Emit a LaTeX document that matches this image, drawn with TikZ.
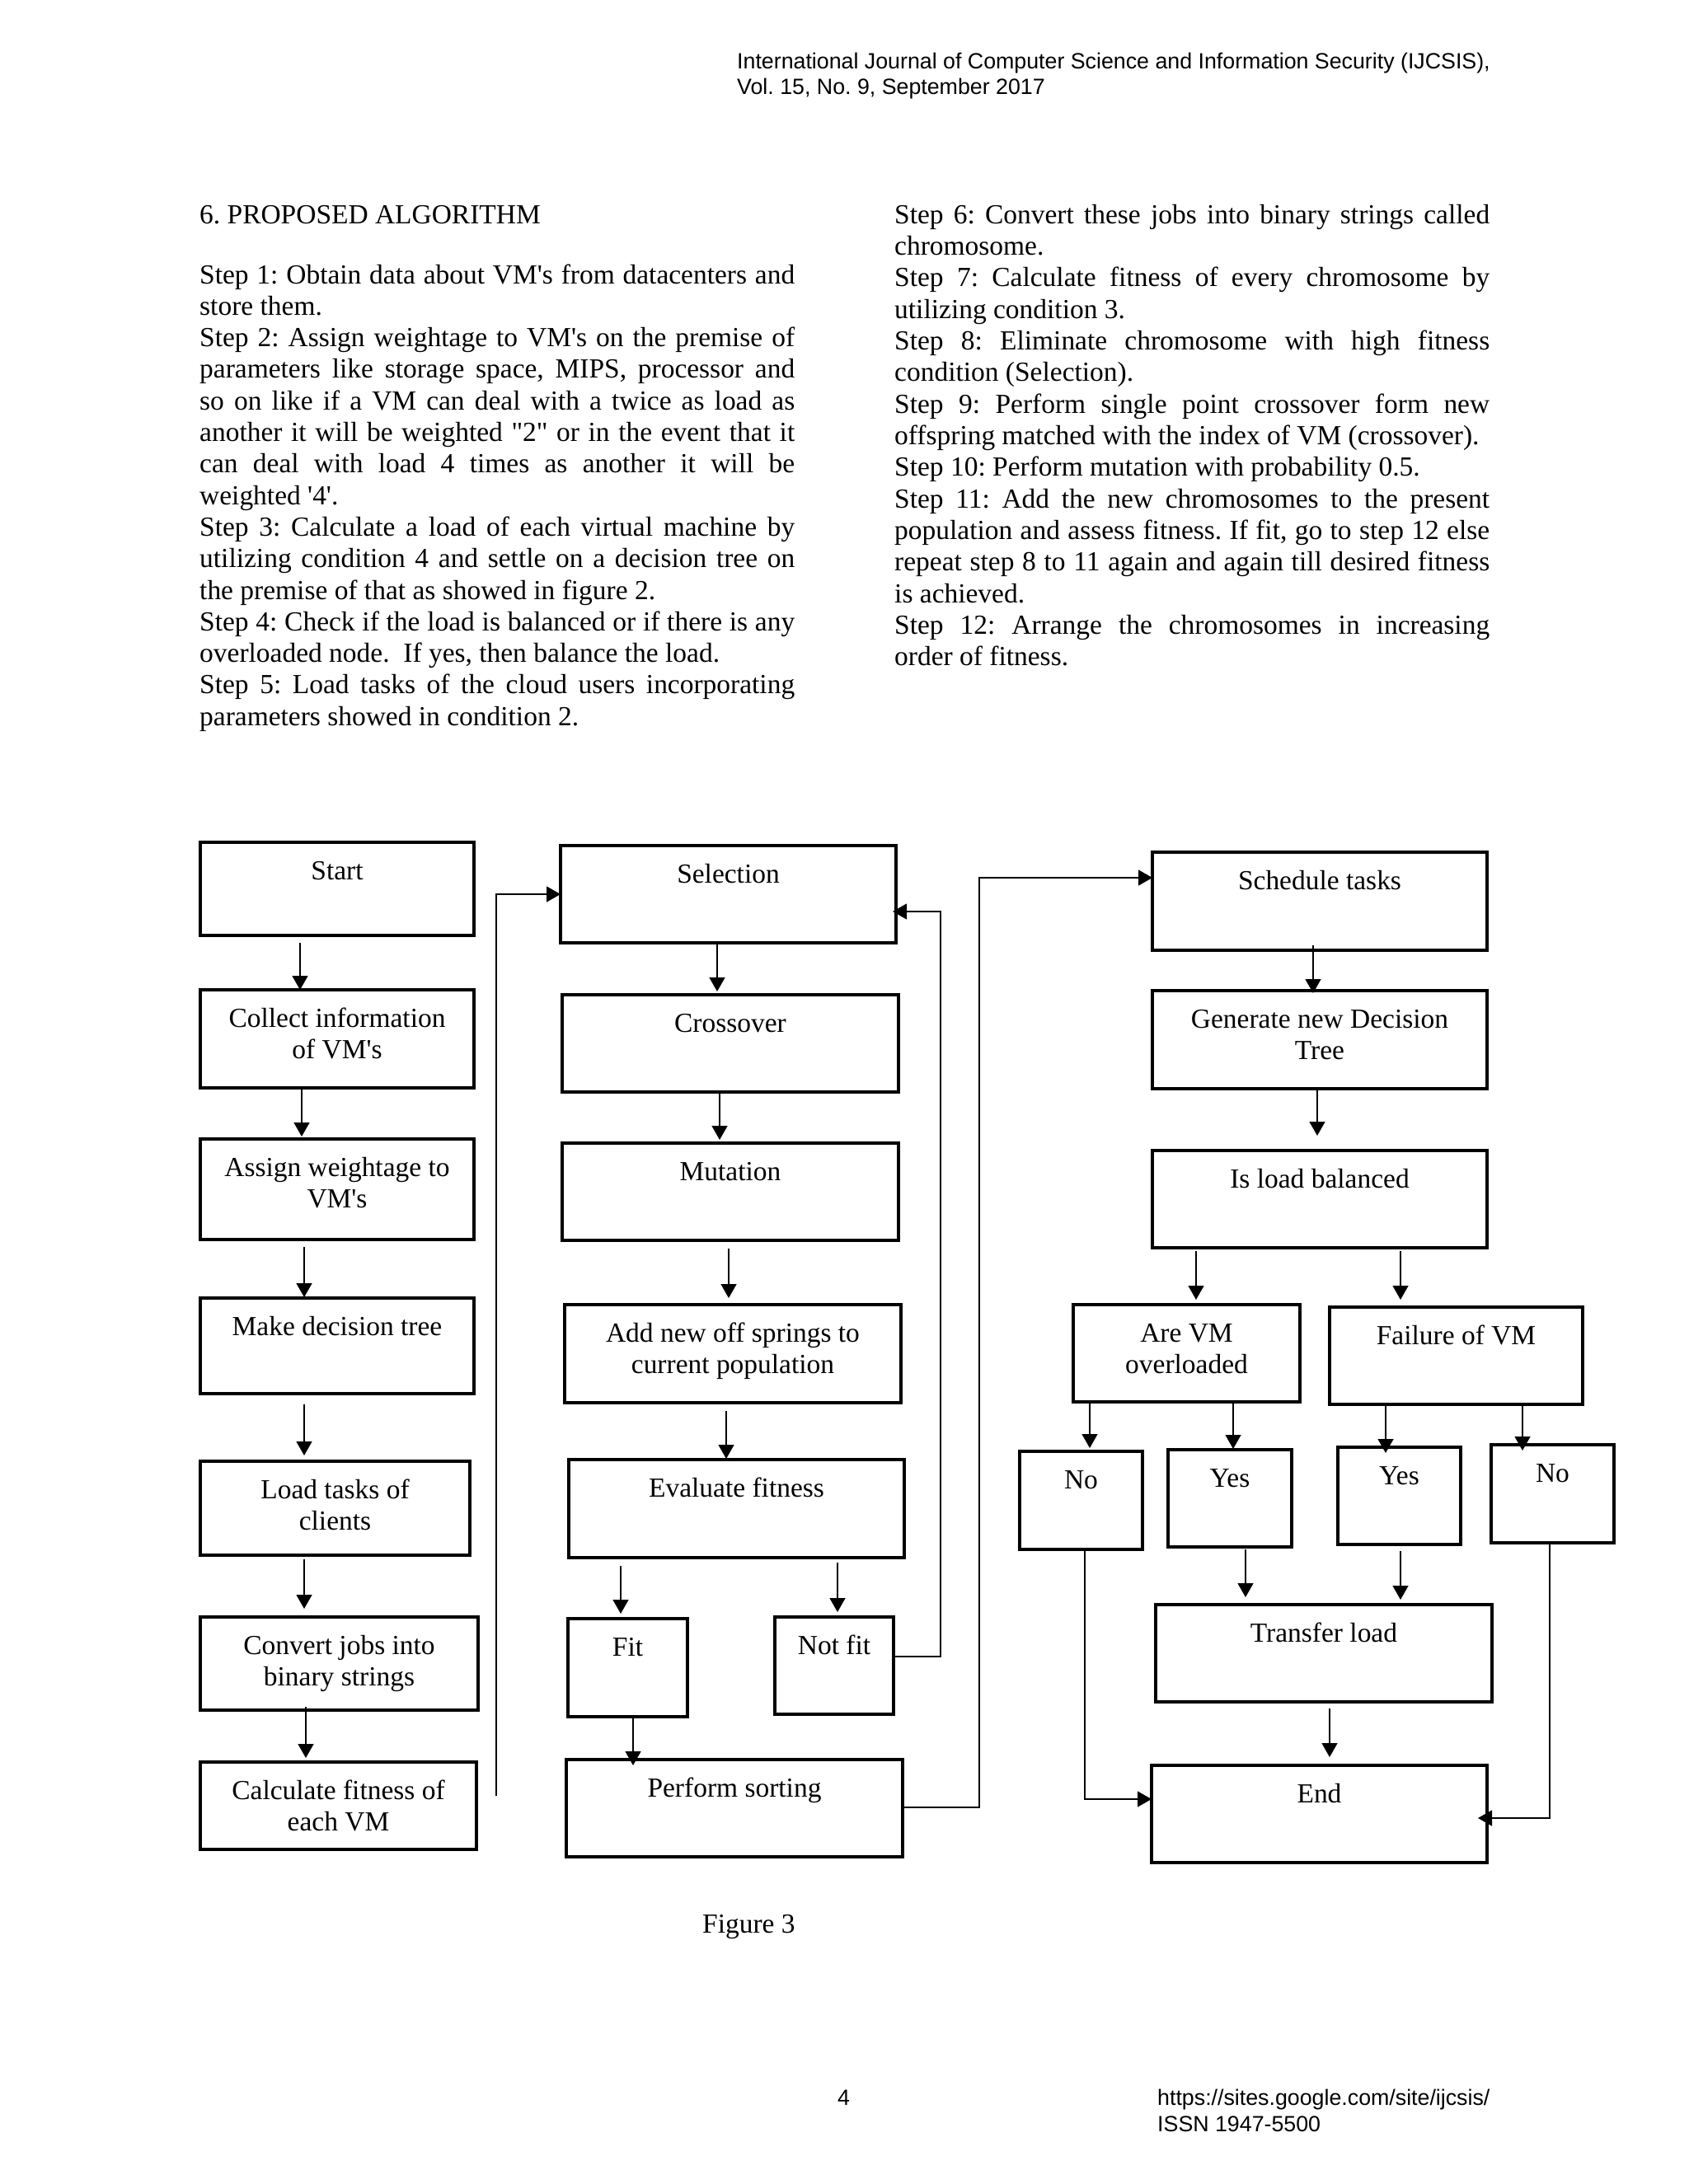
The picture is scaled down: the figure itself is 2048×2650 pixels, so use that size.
\documentclass[tikz,border=0pt]{standalone}
\usepackage{fontspec}
\setmainfont{Liberation Serif}
\newfontfamily\hdrfont{Liberation Sans}
\usetikzlibrary{arrows.meta,calc}
\frenchspacing
\newcommand\aq{\textquotesingle}
\newcommand\dq{\textquotedbl}
\newcommand\bodyf{\fontsize{33.46pt}{38.35pt}\selectfont\frenchspacing}
\newcommand\hdrf{\hdrfont\fontsize{26.77pt}{31pt}\selectfont}
\tikzset{
  boxs/.style={draw, line width=3.3pt, rectangle, inner sep=0pt, outer sep=0pt, anchor=north west},
  lbl/.style={inner sep=0pt, anchor=base, font=\bodyf},
  txt/.style={inner sep=0pt, anchor=base west, font=\bodyf},
  htxt/.style={inner sep=0pt, anchor=base west, font=\hdrf},
  arr/.style={line width=1.3pt, -{Triangle[length=17pt,width=19pt]}},
}
\newcommand\jline[4]{\node[txt] (#1) at (#2,#3) {\makebox[722pt][s]{#4}};}
\newcommand\nline[4]{\node[txt] (#1) at (#2,#3) {#4};}
\newcommand\boxnode[5]{\node[boxs, minimum width=#4pt, minimum height=#5pt] (#1) at (#2,#3) {};}
\newcommand\lab[4]{\node[lbl] (#1) at (#2,#3) {#4};}
\begin{document}
\begin{tikzpicture}[x=1pt,y=-1pt]
\useasboundingbox[fill=white] (0,0) rectangle (2048,2650);

% header
\node[htxt] (h1) at (894,83) {International Journal of Computer Science and Information Security (IJCSIS),};
\node[htxt] (h2) at (894,114) {Vol. 15, No. 9, September 2017};

% left column
\nline{lh}{242}{271}{6. PROPOSED ALGORITHM}
\jline{l1}{242}{344}{Step 1: Obtain data about VM\aq s from datacenters and}
\nline{l2}{242}{382.3}{store them.}
\jline{l3}{242}{420.6}{Step 2: Assign weightage to VM\aq s on the premise of}
\jline{l4}{242}{458.9}{parameters like storage space, MIPS, processor and}
\jline{l5}{242}{497.2}{so on like if a VM can deal with a twice as load as}
\jline{l6}{242}{535.5}{another it will be weighted \dq 2\dq{} or in the event that it}
\jline{l7}{242}{573.8}{can deal with load 4 times as another it will be}
\nline{l8}{242}{612.1}{weighted \aq 4\aq .}
\jline{l9}{242}{650.4}{Step 3: Calculate a load of each virtual machine by}
\jline{l10}{242}{688.7}{utilizing condition 4 and settle on a decision tree on}
\nline{l11}{242}{727}{the premise of that as showed in figure 2.}
\jline{l12}{242}{765.3}{Step 4: Check if the load is balanced or if there is any}
\nline{l13}{242}{803.6}{overloaded node.\ \ If yes, then balance the load.}
\jline{l14}{242}{841.9}{Step 5: Load tasks of the cloud users incorporating}
\nline{l15}{242}{880.2}{parameters showed in condition 2.}

% right column
\jline{r1}{1085}{271}{Step 6: Convert these jobs into binary strings called}
\nline{r2}{1085}{309.35}{chromosome.}
\jline{r3}{1085}{347.7}{Step 7: Calculate fitness of every chromosome by}
\nline{r4}{1085}{386.05}{utilizing condition 3.}
\jline{r5}{1085}{424.4}{Step 8: Eliminate chromosome with high fitness}
\nline{r6}{1085}{462.75}{condition (Selection).}
\jline{r7}{1085}{501.1}{Step 9: Perform single point crossover form new}
\nline{r8}{1085}{539.45}{offspring matched with the index of VM (crossover).}
\nline{r9}{1085}{577.8}{Step 10: Perform mutation with probability 0.5.}
\jline{r10}{1085}{616.15}{Step 11: Add the new chromosomes to the present}
\jline{r11}{1085}{654.5}{population and assess fitness. If fit, go to step 12 else}
\jline{r12}{1085}{692.85}{repeat step 8 to 11 again and again till desired fitness}
\nline{r13}{1085}{731.2}{is achieved.}
\jline{r14}{1085}{769.55}{Step 12: Arrange the chromosomes in increasing}
\nline{r15}{1085}{807.9}{order of fitness.}

% ---------- flowchart boxes ----------
\boxnode{start}{243}{1022}{332}{113}
\boxnode{collect}{243}{1201}{332}{119}
\boxnode{assign}{243}{1382}{332}{122}
\boxnode{make}{243}{1575}{332}{116}
\boxnode{load}{243}{1773}{327}{114}
\boxnode{convert}{243}{1962}{337}{113}
\boxnode{calc}{243}{2138}{335}{106}

\boxnode{selection}{680}{1026}{407}{118}
\boxnode{crossover}{682}{1207}{408}{118}
\boxnode{mutation}{682}{1387}{408}{118}
\boxnode{addnew}{685}{1583}{408}{119}
\boxnode{evalfit}{690}{1771}{407}{119}
\boxnode{fit}{689}{1964}{145}{119}
\boxnode{notfit}{940}{1962}{144}{118}
\boxnode{sorting}{687}{2135}{408}{118}

\boxnode{schedule}{1398}{1034}{406}{119}
\boxnode{generate}{1398}{1202}{406}{119}
\boxnode{isload}{1398}{1396}{406}{118}
\boxnode{arevm}{1302}{1583}{275}{118}
\boxnode{failure}{1613}{1586}{307}{118}
\boxnode{noa}{1237}{1761}{149}{119}
\boxnode{yesa}{1417}{1759}{150}{118}
\boxnode{yesb}{1623}{1756}{149}{118}
\boxnode{nob}{1809}{1753}{149}{119}
\boxnode{transfer}{1402}{1947}{408}{118}
\boxnode{endn}{1397}{2142}{407}{118}

% ---------- labels ----------
\lab{startT}{409}{1067}{Start}
\lab{collectT}{409}{1246}{Collect information}
\lab{collectU}{409}{1284}{of VM\aq s}
\lab{assignT}{409}{1427}{Assign weightage to}
\lab{assignU}{409}{1465}{VM\aq s}
\lab{makeT}{409}{1620}{Make decision tree}
\lab{loadT}{406.5}{1818}{Load tasks of}
\lab{loadU}{406.5}{1856}{clients}
\lab{convertT}{411.5}{2007}{Convert jobs into}
\lab{convertU}{411.5}{2045}{binary strings}
\lab{calcT}{410.5}{2183}{Calculate fitness of}
\lab{calcU}{410.5}{2221}{each VM}

\lab{selectionT}{883.5}{1071}{Selection}
\lab{crossoverT}{886}{1252}{Crossover}
\lab{mutationT}{886}{1432}{Mutation}
\lab{addnewT}{889}{1628}{Add new off springs to}
\lab{addnewU}{889}{1666}{current population}
\lab{evalfitT}{893.5}{1816}{Evaluate fitness}
\lab{fitT}{761.5}{2009}{Fit}
\lab{notfitT}{1012}{2007}{Not fit}
\lab{sortingT}{891}{2180}{Perform sorting}

\lab{scheduleT}{1601}{1079}{Schedule tasks}
\lab{generateT}{1601}{1247}{Generate new Decision}
\lab{generateU}{1601}{1285}{Tree}
\lab{isloadT}{1601}{1441}{Is load balanced}
\lab{arevmT}{1439.5}{1628}{Are VM}
\lab{arevmU}{1439.5}{1666}{overloaded}
\lab{failureT}{1766.5}{1631}{Failure of VM}
\lab{noaT}{1311.5}{1806}{No}
\lab{yesaT}{1492}{1804}{Yes}
\lab{yesbT}{1697.5}{1801}{Yes}
\lab{nobT}{1883.5}{1798}{No}
\lab{transferT}{1606}{1992}{Transfer load}
\lab{endnT}{1600.5}{2187}{End}

% ---------- connectors ----------
% left column
\draw[arr, shorten <=9pt] (364,0 |- start.south) -- (364,0 |- collect.north);
\draw[arr, shorten >=3pt] (366,0 |- collect.south) -- (366,0 |- assign.north);
\draw[arr, shorten <=9pt, shorten >=1pt] (369,0 |- assign.south) -- (369,0 |- make.north);
\draw[arr, shorten <=13pt, shorten >=7pt] (369,0 |- make.south) -- (369,0 |- load.north);
\draw[arr, shorten <=5pt, shorten >=10pt] (369,0 |- load.south) -- (369,0 |- convert.north);
\draw[arr, shorten <=-4pt, shorten >=5pt] (371,0 |- convert.south) -- (371,0 |- calc.north);
\coordinate (fbA) at (602,2179);
\draw[arr] (fbA) |- (selection.west);

% middle column
\draw[arr, shorten >=4pt] (870,0 |- selection.south) -- (870,0 |- crossover.north);
\draw[arr, shorten >=4pt] (873,0 |- crossover.south) -- (873,0 |- mutation.north);
\draw[arr, shorten <=10pt, shorten >=8pt] (884,0 |- mutation.south) -- (884,0 |- addnew.north);
\draw[arr, shorten <=10pt, shorten >=1pt] (881,0 |- addnew.south) -- (881,0 |- evalfit.north);
\draw[arr, shorten <=10pt, shorten >=6pt] (753,0 |- evalfit.south) -- (753,0 |- fit.north);
\draw[arr, shorten <=6pt, shorten >=6pt] (1016,0 |- evalfit.south) -- (1016,0 |- notfit.north);
\draw[arr, shorten >=-7pt] (768,0 |- fit.south) -- (768,0 |- sorting.north);
\draw[arr, shorten >=-4pt] (notfit.east |- 0,2010) -| (1141,1106) -- (selection.east |- 0,1106);
\draw[arr] (sorting.east |- 0,2193) -| (1188,1065) -- (schedule.west |- 0,1065);

% right column
\draw[arr, shorten <=-6pt, shorten >=-3pt] (1593,0 |- schedule.south) -- (1593,0 |- generate.north);
\draw[arr, shorten >=18pt] (1598,0 |- generate.south) -- (1598,0 |- isload.north);
\draw[arr, shorten <=4pt, shorten >=6pt] (1451,0 |- isload.south) -- (1451,0 |- arevm.north);
\draw[arr, shorten <=4pt, shorten >=9pt] (1699,0 |- isload.south) -- (1699,0 |- failure.north);
\draw[arr, shorten >=4pt] (1322,0 |- arevm.south) -- (1322,0 |- noa.north);
\draw[arr, shorten >=1pt] (1496,0 |- arevm.south) -- (1496,0 |- yesa.north);
\draw[arr, shorten >=-7pt] (1681,0 |- failure.south) -- (1681,0 |- yesb.north);
\draw[arr, shorten >=-7pt] (1847,0 |- failure.south) -- (1847,0 |- nob.north);
\draw[arr, shorten <=3pt, shorten >=9pt] (1511,0 |- yesa.south) -- (1511,0 |- transfer.north);
\draw[arr, shorten <=8pt, shorten >=6pt] (1699,0 |- yesb.south) -- (1699,0 |- transfer.north);
\draw[arr, shorten <=8pt, shorten >=10pt] (1613,0 |- transfer.south) -- (1613,0 |- endn.north);
\draw[arr] (1316,0 |- noa.south) |- (endn.west |- 0,2183);
\draw[arr, shorten >=-11pt] (1880,0 |- nob.south) |- (endn.east |- 0,2206);

% caption and footer
\nline{cap}{852}{2345}{Figure 3}
\node[htxt] (pg) at (1016,2554) {4};
\node[htxt] (url) at (1404,2554) {https://sites.google.com/site/ijcsis/};
\node[htxt] (issn) at (1404,2586) {ISSN 1947-5500};
\end{tikzpicture}
\end{document}
